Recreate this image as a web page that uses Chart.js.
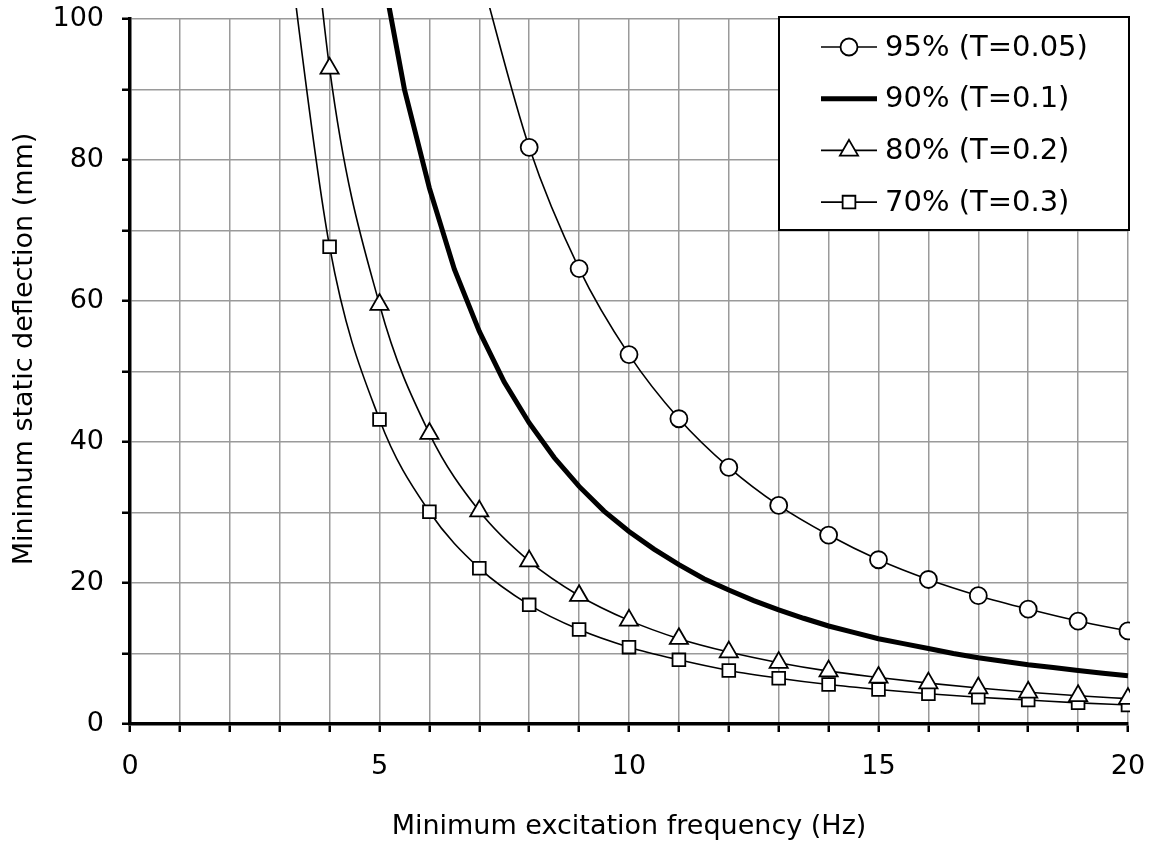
<!DOCTYPE html>
<html>
<head>
<meta charset="utf-8">
<title>Minimum static deflection</title>
<script src="https://cdn.jsdelivr.net/npm/chart.js@4/dist/chart.umd.min.js"></script>
<style>
  html, body { margin: 0; padding: 0; background: #fff; }
  #wrap { width: 1154px; height: 847px; }
</style>
</head>
<body>
<div id="wrap"><canvas id="deflectionChart" width="1154" height="847"></canvas></div>
<script>
// values (Hz -> mm)
var freq95 = [7, 8, 9, 10, 11, 12, 13, 14, 15, 16, 17, 18, 19, 20];
var defl95 = [107, 81.8, 64.6, 52.4, 43.3, 36.4, 31.0, 26.8, 23.3, 20.5, 18.2, 16.3, 14.6, 13.2];

var freq90 = [5, 5.5, 6, 6.5, 7, 7.5, 8, 8.5, 9, 9.5, 10, 10.5, 11, 11.5, 12, 12.5,
              13, 13.5, 14, 14.5, 15, 15.5, 16, 16.5, 17, 17.5, 18, 18.5, 19, 19.5, 20];
var defl90 = [109, 90, 76, 64.5, 55.7, 48.5, 42.7, 37.8, 33.7, 30.2, 27.3, 24.8, 22.6, 20.6, 19.0, 17.5,
              16.2, 15.0, 13.9, 13.0, 12.1, 11.4, 10.7, 10.0, 9.4, 8.9, 8.4, 8.0, 7.6, 7.2, 6.85];

var freq80 = [3, 4, 5, 6, 7, 8, 9, 10, 11, 12, 13, 14, 15, 16, 17, 18, 19, 20];
var defl80 = [165, 93, 59.5, 41.2, 30.2, 23.1, 18.2, 14.7, 12.1, 10.2, 8.7, 7.5, 6.6, 5.8, 5.1, 4.5, 4.0, 3.6];

var freq70 = [3, 4, 5, 6, 7, 8, 9, 10, 11, 12, 13, 14, 15, 16, 17, 18, 19, 20];
var defl70 = [120, 67.7, 43.2, 30.1, 22.1, 16.9, 13.4, 10.9, 9.1, 7.6, 6.5, 5.6, 4.9, 4.3, 3.8, 3.4, 3.0, 2.7];

var seriesNames = ['95% (T=0.05)', '90% (T=0.1)', '80% (T=0.2)', '70% (T=0.3)'];

var xMin = 0, xMax = 20, xStep = 1, xLabelEvery = 5;
var yMin = 0, yMax = 100, yStep = 10, yLabelEvery = 20;

(function() {
  'use strict';

  var FONT = '"DejaVu Sans", Verdana, sans-serif';

  function toPoints(xs, ys) {
    return xs.map(function(x, i) { return { x: x, y: ys[i] }; });
  }

  // markers are hidden for points lying above the plot
  function markerRadius(r) {
    return function(ctx) {
      return (ctx.raw && ctx.raw.y > yMax) ? 0 : r;
    };
  }

  var lineClip = { left: 0, top: 11, right: 2, bottom: 0 };

  var datasets = [
    {
      label: seriesNames[0],
      data: toPoints(freq95, defl95),
      borderColor: '#000', borderWidth: 1.6,
      pointStyle: 'circle', pointRadius: markerRadius(8.5),
      pointBackgroundColor: '#fff', pointBorderColor: '#000', pointBorderWidth: 1.8,
      cubicInterpolationMode: 'monotone', clip: lineClip
    },
    {
      label: seriesNames[1],
      data: toPoints(freq90, defl90),
      borderColor: '#000', borderWidth: 5,
      pointRadius: 0, tension: 0, clip: lineClip
    },
    {
      label: seriesNames[2],
      data: toPoints(freq80, defl80),
      borderColor: '#000', borderWidth: 1.6,
      pointStyle: 'triangle', pointRadius: markerRadius(10.5),
      pointBackgroundColor: '#fff', pointBorderColor: '#000', pointBorderWidth: 1.8,
      cubicInterpolationMode: 'monotone', clip: lineClip
    },
    {
      label: seriesNames[3],
      data: toPoints(freq70, defl70),
      borderColor: '#000', borderWidth: 1.6,
      pointStyle: 'rect', pointRadius: markerRadius(9),
      pointBackgroundColor: '#fff', pointBorderColor: '#000', pointBorderWidth: 1.8,
      cubicInterpolationMode: 'monotone', clip: lineClip
    }
  ];

  // y title sits a bit above the plot centre in the original
  var yTitle = {
    id: 'yTitle',
    afterDraw: function(chart) {
      var ctx = chart.ctx;
      ctx.save();
      ctx.translate(25, 349);
      ctx.rotate(-Math.PI / 2);
      ctx.fillStyle = '#000';
      ctx.font = '27px ' + FONT;
      ctx.textAlign = 'center';
      ctx.textBaseline = 'middle';
      ctx.fillText('Minimum static deflection (mm)', 0, 0);
      ctx.restore();
    }
  };

  // boxed legend in the top right corner, line + marker like the original
  var boxedLegend = {
    id: 'boxedLegend',
    afterDraw: function(chart) {
      var ctx = chart.ctx;
      var left = 779, top = 17, right = 1129, bottom = 230;
      ctx.save();
      ctx.fillStyle = '#fff';
      ctx.fillRect(left, top, right - left, bottom - top);
      ctx.strokeStyle = '#000';
      ctx.lineWidth = 2;
      ctx.strokeRect(left, top, right - left, bottom - top);

      chart.data.datasets.forEach(function(ds, i) {
        var y = 47 + i * 51.7;
        ctx.strokeStyle = '#000';
        ctx.lineWidth = ds.borderWidth;
        ctx.beginPath();
        ctx.moveTo(821, y);
        ctx.lineTo(877, y);
        ctx.stroke();
        if (ds.pointStyle) {
          var r = ds.pointStyle === 'circle' ? 8.5 : (ds.pointStyle === 'triangle' ? 10.5 : 9);
          ctx.fillStyle = '#fff';
          ctx.lineWidth = ds.pointBorderWidth;
          Chart.helpers.drawPoint(ctx, { pointStyle: ds.pointStyle, radius: r, rotation: 0, borderWidth: ds.pointBorderWidth }, 849, y);
        }
        ctx.fillStyle = '#000';
        ctx.font = '29px ' + FONT;
        ctx.textAlign = 'left';
        ctx.textBaseline = 'middle';
        ctx.fillText(ds.label, 885, y + 1);
      });
      ctx.restore();
    }
  };

  var chartCanvas = document.getElementById('deflectionChart').getContext('2d');
  var deflectionChart = new Chart(chartCanvas, {
    type: 'line',
    data: { datasets: datasets },
    plugins: [yTitle, boxedLegend],
    options: {
      responsive: false,
      animation: false,
      layout: { padding: { left: 0, top: 19, right: 26, bottom: 0 } },
      plugins: {
        legend: { display: false },
        tooltip: { enabled: false }
      },
      scales: {
        x: {
          type: 'linear',
          min: xMin, max: xMax,
          afterFit: function(scale) {
            scale.height = 123;
            scale.paddingLeft = 0;
            scale.paddingRight = 0;
          },
          ticks: {
            stepSize: xStep, autoSkip: false, maxRotation: 0,
            padding: 19, color: '#000',
            font: { family: FONT, size: 27 },
            callback: function(v) { return v % xLabelEvery === 0 ? String(v) : ''; }
          },
          grid: { color: '#9a9a9a', lineWidth: 1.5, tickColor: '#000', tickLength: 8, tickWidth: 2.5 },
          border: { color: '#000', width: 3.5 },
          title: {
            display: true, text: 'Minimum excitation frequency (Hz)', color: '#000',
            font: { family: FONT, size: 27 }, padding: { top: 0, bottom: 4 }
          }
        },
        y: {
          min: yMin, max: yMax,
          afterFit: function(scale) {
            scale.width = 130;
            scale.paddingTop = 0;
            scale.paddingBottom = 0;
          },
          ticks: {
            stepSize: yStep, autoSkip: false, padding: 18, color: '#000',
            font: { family: FONT, size: 27 },
            callback: function(v) { return v % yLabelEvery === 0 ? String(v) : ''; }
          },
          grid: { color: '#9a9a9a', lineWidth: 1.5, tickColor: '#000', tickLength: 8, tickWidth: 2.5 },
          border: { color: '#000', width: 3.5 }
        }
      }
    }
  });
})();
</script>
</body>
</html>
